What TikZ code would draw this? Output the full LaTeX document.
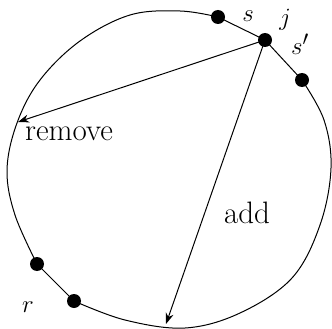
\documentclass[tikz,border=0pt]{standalone}
\usetikzlibrary{arrows.meta}
\begin{document}
\begin{tikzpicture}[x=1pt,y=-1pt,
  curve/.style={line width=1pt, line join=round},
  dot/.style={circle, fill=black, inner sep=0pt, minimum size=14pt},
  arr/.style={line width=1pt, -{Stealth[length=11pt,width=8pt]}},
  lbl/.style={inner sep=0pt, font=\fontsize{31}{36}\selectfont}]
\useasboundingbox (0,0) rectangle (332,329);
% closed curve
\draw[curve] plot[smooth, tension=0.6] coordinates {(302,80) (324,120) (331,168) (320,225) (292,278) (240,313) (185,328) (125,320) (74,301)};
\draw[curve] plot[smooth, tension=0.6] coordinates {(37,264) (15,215) (7,170) (17,123) (40,80) (80,41) (130,15) (180,11) (218,17)};
% points
\node[dot] (s) at (218,17) {};
\node[dot] (j) at (265,40) {};
\node[dot] (sp) at (302,80) {};
\node[dot] (r1) at (37,264) {};
\node[dot] (r2) at (74,301) {};
\coordinate (rem) at (18,122);
\coordinate (addend) at (166,324);
\draw[curve] (s.center) -- (j.center) -- (sp.center);
\draw[curve] (r1.center) -- (r2.center);
\draw[arr] (j.center) -- (rem);
\draw[arr] (j.center) -- (addend);
% labels
\node[lbl] (ls) at (248,16) {$s$};
\node[lbl] (lj) at (285,20) {$j$};
\node[lbl] (lsp) at (300,44) {$s'$};
\node[lbl] (lr) at (28,307) {$r$};
\node[lbl] (lrem) at (69,134) {remove};
\node[lbl] (ladd) at (247,213) {add};
\end{tikzpicture}
\end{document}
